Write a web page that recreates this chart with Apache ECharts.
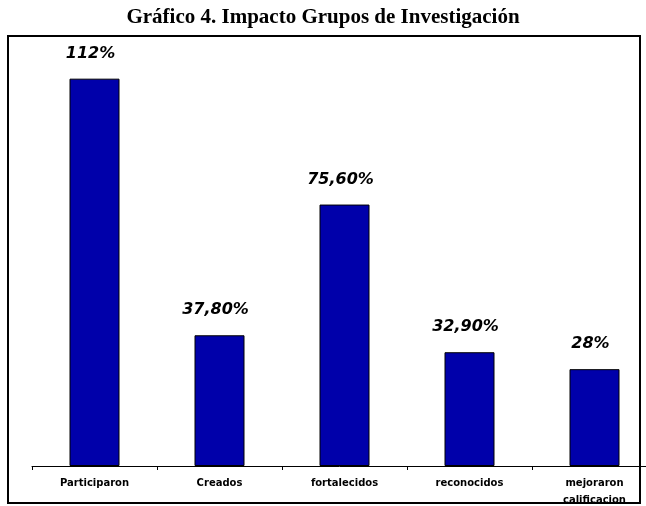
<!DOCTYPE html>
<html>
<head>
<meta charset="utf-8">
<script src="https://cdn.jsdelivr.net/npm/echarts@6/dist/echarts.min.js"></script>
<style>
    html, body { margin: 0; padding: 0; background: #fff; }
    #chart { width: 646px; height: 506px; }
</style>
</head>
<body>
<div id="chart"></div>
<script>
// 数据
const categories = ['Participaron', 'Creados', 'fortalecidos', 'reconocidos', 'mejoraron\ncalificacion']
const values = [112, 37.8, 75.6, 32.9, 28]
const valueLabels = ['112%', '37,80%', '75,60%', '32,90%', '28%']

const chart = echarts.init(document.getElementById('chart'))

const option = {
    animation: false,
    title: {
        text: 'Gráfico 4. Impacto Grupos de Investigación',
        left: 'center',
        top: 2,
        textStyle: {
            fontFamily: 'Liberation Serif',
            fontSize: 21,
            fontWeight: 'bold',
            color: '#000',
        },
    },
    graphic: [
        {
            type: 'rect',
            shape: { x: 8, y: 36, width: 632, height: 467 },
            style: { fill: 'none', stroke: '#000', lineWidth: 2 },
            z: 0,
        },
    ],
    grid: {
        left: 32,
        width: 625,
        top: 51,
        bottom: 40,
        outerBoundsMode: 'none',
        containLabel: false,
    },
    xAxis: {
        type: 'category',
        data: categories,
        axisLine: { lineStyle: { color: '#000', width: 1 } },
        axisTick: { show: true, length: 4, lineStyle: { color: '#000' } },
        axisLabel: {
            margin: 9,
            fontFamily: 'DejaVu Sans',
            fontSize: 10,
            fontWeight: 'bold',
            color: '#000',
            lineHeight: 17,
        },
    },
    yAxis: {
        type: 'value',
        min: 0,
        max: 120,
        show: false,
        splitLine: { show: false },
    },
    series: [
        {
            type: 'bar',
            data: values,
            barWidth: 50,
            itemStyle: {
                color: '#0000AA',
                borderColor: '#000',
                borderWidth: 1,
            },
            label: {
                show: true,
                position: 'top',
                distance: 17,
                offset: [-4, 0],
                formatter: (p) => valueLabels[p.dataIndex],
                fontFamily: 'DejaVu Sans',
                fontSize: 16,
                fontStyle: 'italic',
                fontWeight: 'bold',
                color: '#000',
            },
        },
    ],
}

chart.setOption(option)
</script>
</body>
</html>
